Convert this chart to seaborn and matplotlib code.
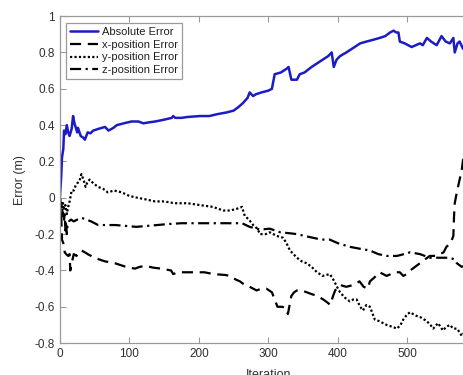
import numpy as np
import pandas as pd
import seaborn as sns
import matplotlib
matplotlib.use("Agg")
import matplotlib.pyplot as plt

# Absolute error (blue solid)
abs_iter = [0, 2, 3, 5, 6, 8, 10, 12, 14, 17, 19, 21, 25, 26, 30, 34, 36, 40, 44, 48,
            56, 65, 70, 77, 82, 92, 103, 113, 120, 128, 137, 150, 161, 163, 166, 175, 184,
            202, 215, 226, 240, 250, 257, 263, 270, 273, 278, 282, 290, 300, 305, 309,
            318, 326, 329, 333, 341, 345, 352, 362, 370, 378, 386, 391, 394, 398, 403,
            412, 420, 432, 441, 451, 460, 468, 475, 480, 484, 487, 489, 496, 506, 512,
            518, 522, 528, 534, 542, 549, 555, 561, 566, 568, 572, 575, 580, 586, 592]
abs_err = [0.0, 0.12, 0.22, 0.27, 0.37, 0.35, 0.40, 0.36, 0.34, 0.38, 0.45, 0.41, 0.36,
           0.385, 0.34, 0.33, 0.32, 0.36, 0.355, 0.37, 0.38, 0.39, 0.37, 0.385, 0.40,
           0.41, 0.42, 0.42, 0.41, 0.415, 0.42, 0.43, 0.44, 0.45, 0.44, 0.44, 0.445,
           0.45, 0.45, 0.46, 0.47, 0.48, 0.50, 0.52, 0.55, 0.58, 0.56, 0.57, 0.58, 0.59,
           0.60, 0.68, 0.69, 0.71, 0.72, 0.65, 0.65, 0.68, 0.69, 0.72, 0.74, 0.76, 0.78,
           0.80, 0.72, 0.76, 0.78, 0.80, 0.82, 0.85, 0.86, 0.87, 0.88, 0.89, 0.91, 0.92,
           0.91, 0.91, 0.86, 0.85, 0.83, 0.84, 0.85, 0.84, 0.88, 0.86, 0.84, 0.89, 0.86,
           0.85, 0.88, 0.80, 0.85, 0.86, 0.82, 0.84, 0.83]

# x-position error (dashed)
x_iter = [0, 2, 3, 5, 7, 9, 12, 14, 15, 17, 20, 24, 27, 31, 36, 40, 50, 57, 65, 79, 95,
          108, 115, 123, 135, 146, 160, 163, 170, 180, 200, 208, 221, 238, 245, 253, 259,
          266, 273, 283, 290, 297, 305, 309, 313, 320, 326, 328, 331, 333, 337, 341, 348,
          355, 362, 370, 379, 386, 389, 393, 396, 403, 412, 422, 431, 437, 443, 446, 452,
          460, 470, 476, 482, 489, 494, 499, 504, 511, 518, 525, 532, 540, 547, 552, 556,
          562, 566, 567, 568, 571, 575, 578, 580, 584, 590]
x_err = [0.0, -0.10, -0.23, -0.25, -0.30, -0.31, -0.32, -0.31, -0.40, -0.36, -0.31, -0.32,
         -0.30, -0.29, -0.30, -0.31, -0.33, -0.34, -0.35, -0.36, -0.38, -0.39, -0.38,
         -0.375, -0.385, -0.39, -0.40, -0.42, -0.41, -0.41, -0.41, -0.41, -0.42, -0.425,
         -0.43, -0.45, -0.46, -0.48, -0.49, -0.51, -0.50, -0.50, -0.52, -0.56, -0.60,
         -0.60, -0.61, -0.64, -0.58, -0.54, -0.52, -0.51, -0.51, -0.52, -0.53, -0.54,
         -0.56, -0.58, -0.59, -0.54, -0.51, -0.48, -0.49, -0.48, -0.46, -0.49, -0.50,
         -0.46, -0.44, -0.41, -0.43, -0.42, -0.41, -0.41, -0.43, -0.42, -0.40, -0.38,
         -0.36, -0.34, -0.32, -0.32, -0.31, -0.30, -0.27, -0.25, -0.21, -0.10, -0.03,
         0.03, 0.10, 0.15, 0.21, 0.25, 0.28]

# y-position error (dotted)
y_iter = [0, 2, 4, 6, 8, 10, 12, 14, 17, 20, 23, 25, 28, 31, 34, 37, 40, 43, 48, 55, 62,
          69, 78, 89, 100, 112, 125, 137, 150, 165, 184, 201, 220, 235, 245, 255, 262, 266,
          272, 278, 284, 288, 296, 302, 312, 321, 326, 331, 336, 341, 348, 355, 362, 370,
          378, 388, 392, 396, 400, 403, 410, 417, 422, 427, 432, 436, 441, 446, 453, 460,
          470, 478, 485, 490, 494, 500, 504, 508, 513, 520, 528, 533, 537, 544, 551, 556,
          561, 566, 571, 575, 578, 582, 588]
y_err = [0.0, -0.03, -0.02, -0.06, -0.04, -0.09, -0.05, -0.02, 0.04, 0.04, 0.07, 0.08,
         0.09, 0.13, 0.10, 0.06, 0.09, 0.10, 0.08, 0.06, 0.05, 0.03, 0.04, 0.03, 0.01, 0.0,
         -0.01, -0.02, -0.02, -0.03, -0.03, -0.04, -0.05, -0.07, -0.07, -0.06, -0.05,
         -0.10, -0.12, -0.15, -0.17, -0.20, -0.20, -0.19, -0.21, -0.22, -0.25, -0.29,
         -0.31, -0.33, -0.35, -0.36, -0.38, -0.41, -0.43, -0.42, -0.44, -0.47, -0.50,
         -0.52, -0.55, -0.57, -0.56, -0.56, -0.60, -0.62, -0.59, -0.60, -0.67, -0.68,
         -0.70, -0.71, -0.72, -0.70, -0.67, -0.64, -0.63, -0.64, -0.65, -0.66, -0.68,
         -0.70, -0.72, -0.69, -0.73, -0.71, -0.70, -0.72, -0.72, -0.74, -0.76, -0.74, -0.75]

# z-position error (dash-dot)
z_iter = [0, 2, 3, 4, 5, 6, 7, 8, 9, 10, 11, 13, 16, 20, 25, 31, 38, 45, 55, 65, 80, 95,
          110, 125, 140, 154, 175, 200, 225, 250, 262, 273, 288, 302, 317, 330, 341, 352,
          364, 376, 388, 400, 417, 431, 446, 458, 470, 485, 495, 504, 518, 532, 547, 561,
          568, 571, 578, 584, 590]
z_err = [0.0, -0.05, -0.02, -0.10, -0.05, -0.12, -0.08, -0.18, -0.13, -0.20, -0.15,
         -0.13, -0.12, -0.13, -0.12, -0.11, -0.12, -0.13, -0.15, -0.15, -0.15, -0.155,
         -0.16, -0.155, -0.15, -0.145, -0.14, -0.14, -0.14, -0.14, -0.14, -0.16, -0.175,
         -0.17, -0.19, -0.195, -0.20, -0.21, -0.22, -0.23, -0.23, -0.25, -0.27, -0.28,
         -0.29, -0.31, -0.32, -0.32, -0.31, -0.30, -0.31, -0.33, -0.33, -0.33, -0.34,
         -0.36, -0.38, -0.37, -0.38]

labels = ["Absolute Error", "x-position Error", "y-position Error", "z-position Error"]
x_ticks = [0, 100, 200, 300, 400, 500, 600]
x_ticklabels = ["0", "100", "200", "300", "400", "500", ""]  # 600 falls off the image
y_ticks = [-0.8, -0.6, -0.4, -0.2, 0, 0.2, 0.4, 0.6, 0.8, 1]
y_ticklabels = ["-0.8", "-0.6", "-0.4", "-0.2", "0", "0.2", "0.4", "0.6", "0.8", "1"]

sns.set_style("ticks", {"xtick.direction": "in", "ytick.direction": "in"})
plt.rcParams["font.family"] = ["Liberation Sans", "DejaVu Sans"]
plt.rcParams["axes.unicode_minus"] = False

fig = plt.figure(figsize=(4.64, 3.75), dpi=100)
ax = fig.add_axes([0.129, 0.085, 0.899, 0.872])

series = [
    (abs_iter, abs_err, "#1c1cc4", "-", 1.8),
    (x_iter, x_err, "black", (0, (5, 3)), 1.6),
    (y_iter, y_err, "black", (0, (1, 1)), 1.6),
    (z_iter, z_err, "black", (0, (5, 2, 1, 2)), 1.6),
]
for (xs, ys, col, ls, lw), lab in zip(series, labels):
    sns.lineplot(x=xs, y=ys, ax=ax, color=col, linestyle=ls, linewidth=lw,
                 estimator=None, sort=False, label=lab)

ax.set_xlim(0, 600)
ax.set_ylim(-0.8, 1)
ax.set_xticks(x_ticks)
ax.set_xticklabels(x_ticklabels)
ax.set_yticks(y_ticks)
ax.set_yticklabels(y_ticklabels)
ax.tick_params(axis="both", which="both", direction="in", length=4, width=0.8,
               colors="#9a9a9a", labelcolor="#303030", labelsize=8.5,
               top=True, right=True)
for sp in ax.spines.values():
    sp.set_visible(True)
    sp.set_color("#9a9a9a")
    sp.set_linewidth(0.9)

ax.set_xlabel("Iteration", fontsize=9, color="#303030")
ax.set_ylabel("Error (m)", fontsize=9, color="#303030")
ax.xaxis.set_label_coords(0.5, -0.08)
ax.yaxis.set_label_coords(-0.08, 0.5)

leg = ax.legend(loc="upper left", bbox_to_anchor=(0.014, 0.979), borderaxespad=0,
                fontsize=8, handlelength=2.6, handletextpad=0.3, labelspacing=0.25,
                borderpad=0.35, fancybox=False, framealpha=1, edgecolor="#9a9a9a")
leg.get_frame().set_linewidth(0.9)
for t in leg.get_texts():
    t.set_color("#202020")

fig.savefig("out.png", dpi=100)
